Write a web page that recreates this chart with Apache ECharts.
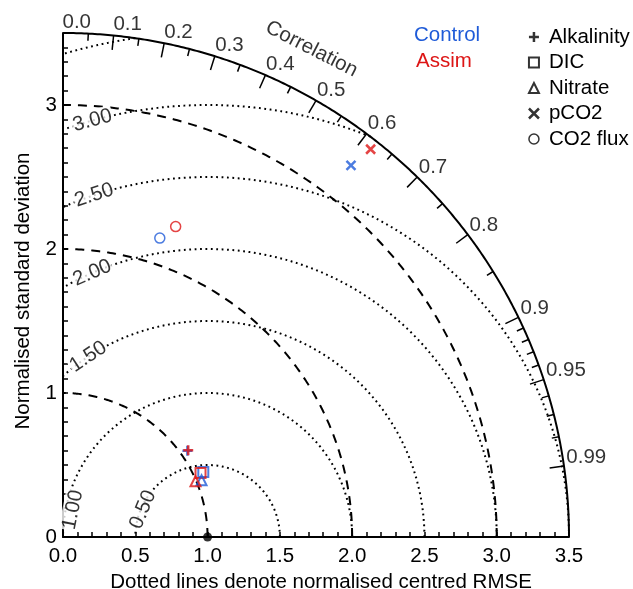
<!DOCTYPE html>
<html>
<head>
<meta charset="utf-8">
<script src="https://cdn.jsdelivr.net/npm/echarts@6/dist/echarts.min.js"></script>
<style>
  html, body { margin: 0; padding: 0; background: #fff; }
  #chart { width: 633px; height: 589px; }
</style>
</head>
<body>
<div id="chart"></div>
<script>
// values: normalised std and correlation per variable
const variables = ['Alkalinity', 'DIC', 'Nitrate', 'pCO2', 'CO2 flux'];
const controlStd = [1.048, 1.070, 1.036, 3.260, 2.181];
const controlCorr = [0.821, 0.907, 0.925, 0.611, 0.307];
const assimStd = [1.055, 1.050, 0.995, 3.432, 2.292];
const assimCorr = [0.821, 0.906, 0.921, 0.620, 0.340];

const corrMajor = [0.0, 0.1, 0.2, 0.3, 0.4, 0.5, 0.6, 0.7, 0.8, 0.9, 0.95, 0.99];
const corrMinor = [0.05, 0.15, 0.25, 0.35, 0.45, 0.55, 0.65, 0.75, 0.85, 0.91, 0.92, 0.93, 0.94, 0.96, 0.97, 0.98];
const stdArcs = [1, 2, 3];
const rmseArcs = [0.5, 1.0, 1.5, 2.0, 2.5, 3.0, 3.5];
const rmseLabelled = [0.5, 1.0, 1.5, 2.0, 2.5, 3.0];
const xTickLabels = [0, 0.5, 1.0, 1.5, 2.0, 2.5, 3.0, 3.5];
const yTickLabels = [0, 1, 2, 3];

// layout bits
const R = 3.5;
const FONT = 'Liberation Sans';
const FS = 20.5;
const BLUE = '#1f5bd8';
const RED = '#dd1515';
// where the rmse labels sit on their circle: [angle from (1,0) in deg, radius factor]
const rmseLabelSpot = [[157, 0.97], [168.5, 0.95], [123.4, 1], [113.5, 1], [108.3, 1], [105.4, 1]];

const symbols = ['path://M5,0L5,10M0,5L10,5', 'rect', 'triangle', 'path://M0,0L10,10M10,0L0,10', 'circle'];
const symbolSizes = [10, 10, 10, 9, 10];
const symbolWidths = [2.5, 2, 2, 2.5, 1.5];

const toXY = (s, c) => [s * c, s * Math.sin(Math.acos(c))];
const steps = (max, step) => {
  const a = [];
  for (let i = 0; i <= Math.round(max / step); i++) a.push(+(i * step).toFixed(2));
  return a;
};
const arcPts = (cx, r, t0, t1, n) => {
  const pts = [];
  for (let i = 0; i <= n; i++) {
    const t = t0 + (t1 - t0) * i / n;
    pts.push([cx + r * Math.cos(t), r * Math.sin(t)]);
  }
  return pts;
};

// rmse circles around (1,0), clipped to x>=0 and inside the outer arc
const rmseCoords = rmseArcs.map((r) => {
  const t0 = 1 + r <= R ? 0 : Math.acos((R * R - 1 - r * r) / (2 * r));
  const t1 = r <= 1 ? Math.PI : Math.acos(-1 / r);
  return { coords: arcPts(1, r, t0, t1, 200) };
});
const stdCoords = stdArcs.map((r) => ({ coords: arcPts(0, r, 0, Math.PI / 2, 200) }));
const tickLine = (c, len) => {
  const t = Math.acos(c);
  return { coords: [[R * Math.cos(t), R * Math.sin(t)], [(R - len) * Math.cos(t), (R - len) * Math.sin(t)]] };
};

const chart = echarts.init(document.getElementById('chart'));

const baseLines = {
  type: 'lines',
  coordinateSystem: 'cartesian2d',
  polyline: true,
  silent: true,
  animation: false,
  clip: false,
  z: 2
};

const textPoint = {
  type: 'scatter',
  symbol: 'circle',
  symbolSize: 1,
  silent: true,
  animation: false,
  clip: false,
  itemStyle: { color: 'rgba(0,0,0,0)' }
};

const series = [
  Object.assign({}, baseLines, {
    name: 'rmse',
    data: rmseCoords,
    lineStyle: { color: '#000', width: 2, type: [1.8, 3.6], opacity: 1 }
  }),
  Object.assign({}, baseLines, {
    name: 'std',
    data: stdCoords,
    lineStyle: { color: '#000', width: 2, type: [9, 7], opacity: 1 }
  }),
  Object.assign({}, baseLines, {
    name: 'outer',
    data: [{ coords: arcPts(0, R, 0, Math.PI / 2, 300) }],
    lineStyle: { color: '#000', width: 2, opacity: 1 }
  }),
  Object.assign({}, baseLines, {
    name: 'corrTicks',
    polyline: false,
    data: corrMajor.filter((c) => c > 0).map((c) => tickLine(c, 0.1))
      .concat(corrMinor.map((c) => tickLine(c, 0.05))),
    lineStyle: { color: '#000', width: 1.5, opacity: 1 }
  }),
  Object.assign({}, textPoint, {
    name: 'corrLabels',
    data: corrMajor.map((c) => ({ value: toXY(R + 0.02, c), name: c === 0 ? '0.0' : String(c) })),
    label: {
      show: true, position: [0, 0], align: 'left', verticalAlign: 'bottom', offset: [0, 3],
      formatter: (p) => p.name, color: '#000', fontSize: FS, fontFamily: FONT
    },
    z: 4
  }),
  Object.assign({}, textPoint, {
    name: 'rmseLabels',
    data: rmseLabelled.map((r, i) => {
      const a = rmseLabelSpot[i][0] * Math.PI / 180;
      const rr = r * rmseLabelSpot[i][1];
      return {
        value: [1 + rr * Math.cos(a), rr * Math.sin(a)],
        name: r.toFixed(2),
        label: { rotate: rmseLabelSpot[i][0] - 90 }
      };
    }),
    label: {
      show: true, position: 'inside', formatter: (p) => p.name, color: '#000',
      fontSize: FS, fontFamily: FONT, backgroundColor: '#fff', padding: [0, 1]
    },
    z: 3
  }),
  Object.assign({}, textPoint, {
    name: 'corrTitle',
    data: [{ value: [3.8 * Math.cos(63.1 * Math.PI / 180), 3.8 * Math.sin(63.1 * Math.PI / 180)], name: 'Correlation' }],
    label: {
      show: true, position: 'inside', rotate: -27, formatter: (p) => p.name,
      color: '#000', fontSize: FS, fontFamily: FONT
    },
    z: 4
  }),
  {
    type: 'scatter',
    name: 'reference',
    silent: true,
    animation: false,
    symbol: 'circle',
    symbolSize: 9,
    itemStyle: { color: '#000' },
    data: [[1, 0]],
    clip: false,
    z: 6
  }
];

variables.forEach((name, i) => {
  series.push({
    type: 'scatter',
    name,
    symbol: symbols[i],
    symbolSize: symbolSizes[i],
    animation: false,
    clip: false,
    itemStyle: { color: 'rgba(0,0,0,0)', borderColor: '#000', borderWidth: symbolWidths[i] },
    data: [
      { value: toXY(controlStd[i], controlCorr[i]), itemStyle: { borderColor: BLUE } },
      { value: toXY(assimStd[i], assimCorr[i]), itemStyle: { borderColor: RED } }
    ],
    z: 10
  });
});

const axisCommon = {
  type: 'value',
  min: 0,
  max: R,
  axisLine: { show: true, lineStyle: { color: '#000', width: 2 } },
  splitLine: { show: false },
  nameLocation: 'middle',
  nameTextStyle: { color: '#000', fontSize: FS, fontFamily: FONT }
};

chart.setOption({
  animation: false,
  grid: { left: 63, top: 33, width: 506, height: 504, containLabel: false, outerBoundsMode: 'none' },
  xAxis: Object.assign({}, axisCommon, {
    interval: 0.5,
    name: 'Dotted lines denote normalised centred RMSE',
    nameGap: 33,
    nameTextStyle: Object.assign({}, axisCommon.nameTextStyle, { padding: [0, 0, 0, 10] }),
    axisTick: { inside: true, length: 5, customValues: steps(R, 0.1), lineStyle: { color: '#000', width: 1.5 } },
    axisLabel: { customValues: xTickLabels, formatter: (v) => v.toFixed(1), margin: 9, color: '#000', fontSize: FS, fontFamily: FONT }
  }),
  yAxis: Object.assign({}, axisCommon, {
    interval: 0.5,
    name: 'Normalised standard deviation',
    nameGap: 29,
    nameTextStyle: Object.assign({}, axisCommon.nameTextStyle, { padding: [0, 12, 0, 0] }),
    axisTick: { inside: true, length: 5, customValues: steps(3.4, 0.1), lineStyle: { color: '#000', width: 1.5 } },
    axisLabel: { customValues: yTickLabels, formatter: (v) => String(v), margin: 6, color: '#000', fontSize: FS, fontFamily: FONT }
  }),
  legend: {
    orient: 'vertical',
    left: 522.7,
    top: 21.5,
    itemWidth: 10,
    itemHeight: 10,
    itemGap: 4.5,
    selectedMode: false,
    textStyle: { color: '#000', fontSize: FS, fontFamily: FONT, padding: [0, 0, 0, 5] },
    data: variables.map((name, i) => ({
      name,
      icon: symbols[i],
      itemStyle: { color: 'rgba(0,0,0,0)', borderColor: '#000', borderWidth: symbolWidths[i] }
    }))
  },
  graphic: [
    { type: 'text', x: 414, y: 35, style: { text: 'Control', fill: BLUE, fontSize: FS, fontFamily: FONT, align: 'left', verticalAlign: 'middle' } },
    { type: 'text', x: 416, y: 61, style: { text: 'Assim', fill: RED, fontSize: FS, fontFamily: FONT, align: 'left', verticalAlign: 'middle' } }
  ],
  series
});
</script>
</body>
</html>
